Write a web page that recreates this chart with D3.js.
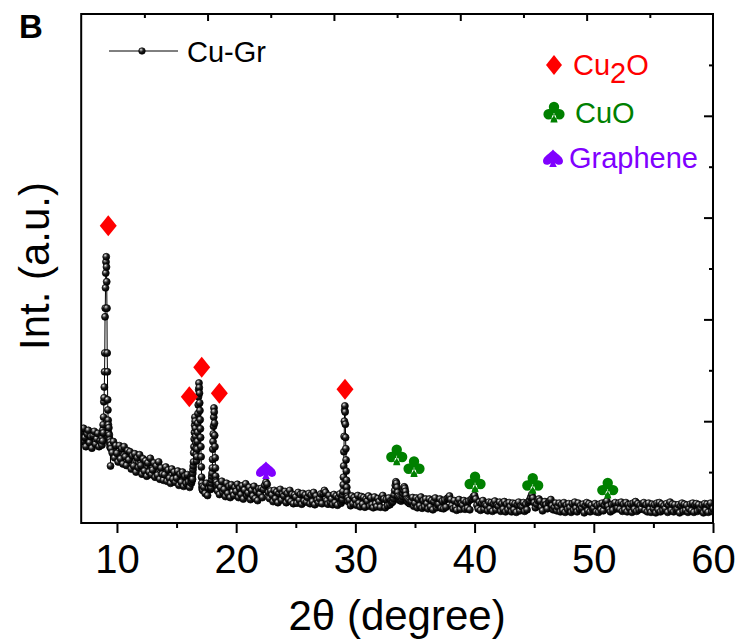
<!DOCTYPE html>
<html>
<head>
<meta charset="utf-8">
<script src="https://cdn.jsdelivr.net/npm/d3@7/dist/d3.min.js"></script>
<style>
  html, body { margin: 0; padding: 0; background: #fff; }
  svg { display: block; }
  text { font-family: "Liberation Sans", Arial, Helvetica, sans-serif; }
</style>
</head>
<body>
<svg id="chart" width="744" height="643"></svg>
<script>
// ---------------- DATA ----------------
// Each segment: start angle, step (deg 2θ), intensity values (a.u.)
const bgA = {start: 7.0, step: 0.1, values: [178,160,186,168,150,175,182,158,170,147,172,180,155,165,176,150,162]};
const peak1 = {start: 8.70, step: 0.02, values: [157,171,153,167,177,161,183,193,177,208,238,246,267,297,334,405,422,462,491,513,523,503,474,422,334,297,242,222,202,193,177,187,167,173,157,163,149,159,112,153,146]};
const bgB = {start: 9.6, step: 0.1, values: [138,160,128,152,
  137,120,152,126,146,116,150,130,113,142,
  124,140,106,132,112,136,100,128,109,134,
  113,96,126,102,122,92,118,100,127,95,
  104,118,90,112,94,120,86,108,96,84,
  95,110,82,104,88,78,106,86,100,80,
  88,102,74,96,80,100,72,92,78,95,
  81,70,90]};
const peak2 = {start: 16.22, step: 0.02, values: [84,78,90,82,88,95,86,98,105,112,120,138,150,165,178,192,208,200,186,170,157,146,135,122,130,145,160,178,196,215,232,248,262,275,266,255,236,221,203,185,168,150,130,110,90,78,70,66,72,64]};
const bgC = {start: 17.3, step: 0.1, values: [70,58,78,54,68,75]};
const peak3 = {start: 17.86, step: 0.02, values: [66,74,69,78,85,92,98,108,125,145,160,175,190,208,226,218,196,172,150,128,108,92,82,75,80,70,74,66,72,63]};
const bgD = {start: 18.5, step: 0.1, values: [76,56,70,82,60,
  66,52,78,58,72,50,75,61,54,70,
  62,76,50,68,56,73,47,65,77,54,
  59,70,46,64,53,72,48,62,44,67,
  57,68,50,66,74,80,76,60,48,63,
  55,42,64,48,61,40,58,66,45,57,
  53,62,40,58,46,64,42,56,38,55,
  51,39,60,45,56,37,58,43,55,41,
  50,58,38,55,42,60,36,53,45,40,
  48,57,38,58,64,60,44,37,54,41,
  47,36,56,40,53,35,50,57,39]};
const peak4 = {start: 28.86, step: 0.02, values: [47,43,50,46,55,62,75,90,112,140,170,200,222,230,218,194,168,146,124,102,84,70,60,52,48,44,49,42]};
const bgE = {start: 29.5, step: 0.1, values: [45,34,53,38,50,
  45,35,54,39,32,52,37,50,31,47,
  43,53,33,49,36,30,51,38,32,48,
  42,31,50,54,47,30,46,34,49,36,
  44]};
const peakCuO = {start: 33.05, step: 0.05, values: [40,45,42,48,55,64,74,81,78,70,60,52,46,50,44,48,43,47,52,58,64,71,68,62,54,47,42,46,40,44,38,42]};
const bgF = {start: 34.7, step: 0.1, values: [42,50,33,
  39,49,30,46,34,51,29,44,32,47,
  38,28,47,32,44,26,42,49,30,36,
  37,47,29,43,28,45,31,48,50,53,
  46,34,28,44,31,25,40,46,27,38,
  35,44,27,41,29,43,26,46,48,52,
  54,47,35,28,41,25,39,44,27,36,
  34,24,41,28,40,23,38,43,26,35,
  33,41,23,38,27,42,22,37,26,40,
  32,22,39,26,38,21,36,41,24,33,
  32,40,23,37,26,41,44,50,56,49,
  40,30,37,44,47,43,31,24,38,42,
  36,28,40,43,46,34,26,31,39,24,
  31,39,22,36,25,40,21,35,27,38,
  30,21,38,25,41,29,22,39,27,34,
  29,37,20,34,40,24,38,22,35,27,
  29,38,22,34,21,37,26,39,24,35,
  41,43,33,26,22,36,25,38,40,28,
  29,39,27,41,23,37,26,40,22,36,
  29,37,21,39,27,42,23,38,26,35,
  28,38,40,25,36,22,39,27,21,37,
  28,36,20,39,26,40,22,37,25,34,
  28,38,21,35,41,25,37,22,36,26,
  28,36,20,34,39,23,37,25,35,21,
  28,37,24,39,21,35,38,23,36,26,
  28,35,20,38,25,37,21,34,39,23,
  28]};

// Peak annotation markers [2θ, intensity]
const cu2oMarks = [[9.27,584],[16.07,248],[17.11,306],[18.59,255],[29.13,263]];
const cuoMarks = [[33.47,134],[34.92,111],[40.04,81],[44.88,78],[51.17,69]];
const grapheneMarks = [[22.50,104]];

const xTicks = [10,20,30,40,50,60];
const xMinorTicks = [15,25,35,45,55];
const seriesName = "Cu-Gr";
const legendItems = [
  {name: "Cu2O", color: "#ff0000", shape: "diamond"},
  {name: "CuO", color: "#008000", shape: "club"},
  {name: "Graphene", color: "#8000ff", shape: "spade"}
];

// ---------------- BUILD ----------------
const segments = [bgA, peak1, bgB, peak2, bgC, peak3, bgD, peak4, bgE, peakCuO, bgF];
const data = [];
segments.forEach(s => s.values.forEach((v, i) => data.push({x: +(s.start + i*s.step).toFixed(3), y: v})));

const L = 81.2, R = 713, T = 14, B = 523;
const svg = d3.select("#chart");
const x = d3.scaleLinear().domain([7, 60]).range([L, R]);
const y = d3.scaleLinear().domain([0, 1000]).range([B, T]);

const defs = svg.append("defs");
const grad = defs.append("radialGradient").attr("id", "ball")
  .attr("cx", "0.35").attr("cy", "0.3").attr("r", "0.7");
grad.append("stop").attr("offset", "0").attr("stop-color", "#f4f4f4");
grad.append("stop").attr("offset", "0.2").attr("stop-color", "#8a8a8a");
grad.append("stop").attr("offset", "0.5").attr("stop-color", "#1c1c1c");
grad.append("stop").attr("offset", "1").attr("stop-color", "#000000");
defs.append("clipPath").attr("id", "plotclip").append("rect")
  .attr("x", L).attr("y", T).attr("width", R - L).attr("height", B - T);

// symbol paths
function diamondPath(w, h) {
  return `M0,${-h}L${w},0L0,${h}L${-w},0Z`;
}
function clubPath(s) {
  const p = d3.path();
  const circ = (cx, cy, r) => { p.moveTo(cx + r, cy); p.arc(cx, cy, r, 0, 2*Math.PI); };
  circ(0, -5*s, 5.2*s);
  circ(-5.4*s, 2.2*s, 5.2*s);
  circ(5.4*s, 2.2*s, 5.2*s);
  circ(0, 0.5*s, 3*s);
  p.moveTo(-1*s, 1*s); p.lineTo(-3.6*s, 10.5*s); p.lineTo(3.6*s, 10.5*s); p.lineTo(1*s, 1*s); p.closePath();
  return p.toString();
}
function spadePath(s) {
  return `M0,${-8.5*s} C${3*s},${-4.5*s} ${10*s},${-1.5*s} ${10*s},${3*s} C${10*s},${7.5*s} ${4.5*s},${8*s} ${1.8*s},${4.8*s} L${3.8*s},${9*s} L${-3.8*s},${9*s} L${-1.8*s},${4.8*s} C${-4.5*s},${8*s} ${-10*s},${7.5*s} ${-10*s},${3*s} C${-10*s},${-1.5*s} ${-3*s},${-4.5*s} 0,${-8.5*s} Z`;
}

// data line and markers
const plot = svg.append("g").attr("clip-path", "url(#plotclip)");
plot.append("path").datum(data)
  .attr("fill", "none").attr("stroke", "#000").attr("stroke-width", 1)
  .attr("d", d3.line().x(d => x(d.x)).y(d => y(d.y)));
plot.append("g").selectAll("circle").data(data).join("circle")
  .attr("cx", d => x(d.x)).attr("cy", d => y(d.y)).attr("r", 3.5)
  .attr("fill", "url(#ball)").attr("stroke", "#000").attr("stroke-width", 0.7);

// peak markers
const marks = svg.append("g");
marks.selectAll(".d").data(cu2oMarks).join("path")
  .attr("transform", d => `translate(${x(d[0])},${y(d[1])})`)
  .attr("d", diamondPath(8.5, 10.5)).attr("fill", "#ff0000");
marks.selectAll(".c").data(cuoMarks).join("path")
  .attr("transform", d => `translate(${x(d[0])},${y(d[1])})`)
  .attr("d", clubPath(1)).attr("fill", "#008000");
marks.selectAll(".s").data(grapheneMarks).join("path")
  .attr("transform", d => `translate(${x(d[0])},${y(d[1])})`)
  .attr("d", spadePath(1)).attr("fill", "#8000ff");

// axes
const ax = svg.append("g").attr("class", "axes");
ax.append("g").attr("transform", `translate(0,${B})`)
  .call(d3.axisBottom(x).tickValues(xTicks).tickSize(10).tickPadding(12).tickFormat(d3.format("d")));
ax.append("g").attr("transform", `translate(0,${B})`)
  .call(d3.axisBottom(x).tickValues(xMinorTicks).tickSize(5).tickFormat(""));
const tScale = d3.scaleLinear().domain([0, 10]).range([L, R]);
ax.append("g").attr("transform", `translate(0,${T})`)
  .call(d3.axisTop(tScale).tickValues([2,4,6,8]).tickSize(-7).tickFormat(""));
ax.append("g").attr("transform", `translate(0,${T})`)
  .call(d3.axisTop(tScale).tickValues([1,3,5,7,9]).tickSize(-4).tickFormat(""));
const rScale = d3.scaleLinear().domain([0, 10]).range([B, T]);
ax.append("g").attr("transform", `translate(${R},0)`)
  .call(d3.axisRight(rScale).tickValues([2,4,6,8]).tickSize(-9).tickFormat(""));
ax.append("g").attr("transform", `translate(${R},0)`)
  .call(d3.axisRight(rScale).tickValues([1,3,5,7,9]).tickSize(-4).tickFormat(""));
ax.selectAll(".domain").remove();
ax.selectAll(".tick line").attr("stroke", "#000").attr("stroke-width", 2);
ax.selectAll(".tick text").attr("font-size", 40).attr("fill", "#000")
  .attr("font-family", "'Liberation Sans', Arial, sans-serif");

svg.append("rect").attr("x", L).attr("y", T).attr("width", R - L).attr("height", B - T)
  .attr("fill", "none").attr("stroke", "#000").attr("stroke-width", 2);

// axis titles
svg.append("text").attr("x", (L + R) / 2).attr("y", 630)
  .attr("text-anchor", "middle").attr("font-size", 42).attr("fill", "#000")
  .text("2θ (degree)");
svg.append("text").attr("transform", `translate(49,266) rotate(-90)`)
  .attr("text-anchor", "middle").attr("font-size", 42).attr("fill", "#000")
  .text("Int. (a.u.)");

// panel label
svg.append("text").attr("x", 19).attr("y", 38).attr("font-size", 33)
  .attr("font-weight", "bold").attr("fill", "#000").text("B");

// series legend
const lg = svg.append("g");
lg.append("line").attr("x1", 109).attr("x2", 178).attr("y1", 51).attr("y2", 51)
  .attr("stroke", "#000").attr("stroke-width", 1);
lg.append("circle").attr("cx", 142).attr("cy", 51).attr("r", 3.3)
  .attr("fill", "url(#ball)").attr("stroke", "#000").attr("stroke-width", 0.6);
lg.append("text").attr("x", 187).attr("y", 62).attr("font-size", 29).attr("fill", "#000").text(seriesName);

// phase legend
const pl = svg.append("g");
const legY = [65, 112, 158];
const legTextX = [573, 575, 569];
const legBase = [75, 123, 168];
legendItems.forEach((it, i) => {
  let d;
  if (it.shape === "diamond") d = diamondPath(8, 10);
  else if (it.shape === "club") d = clubPath(1);
  else d = spadePath(1);
  pl.append("path").attr("transform", `translate(${i === 2 ? 553 : 554},${legY[i]})`)
    .attr("d", d).attr("fill", it.color);
  const t = pl.append("text").attr("x", legTextX[i]).attr("y", legBase[i])
    .attr("font-size", 29).attr("fill", it.color);
  if (it.name === "Cu2O") {
    t.append("tspan").text("Cu");
    t.append("tspan").attr("dy", 8).text("2");
    t.append("tspan").attr("dy", -8).text("O");
  } else {
    t.text(it.name);
  }
});
</script>
</body>
</html>
